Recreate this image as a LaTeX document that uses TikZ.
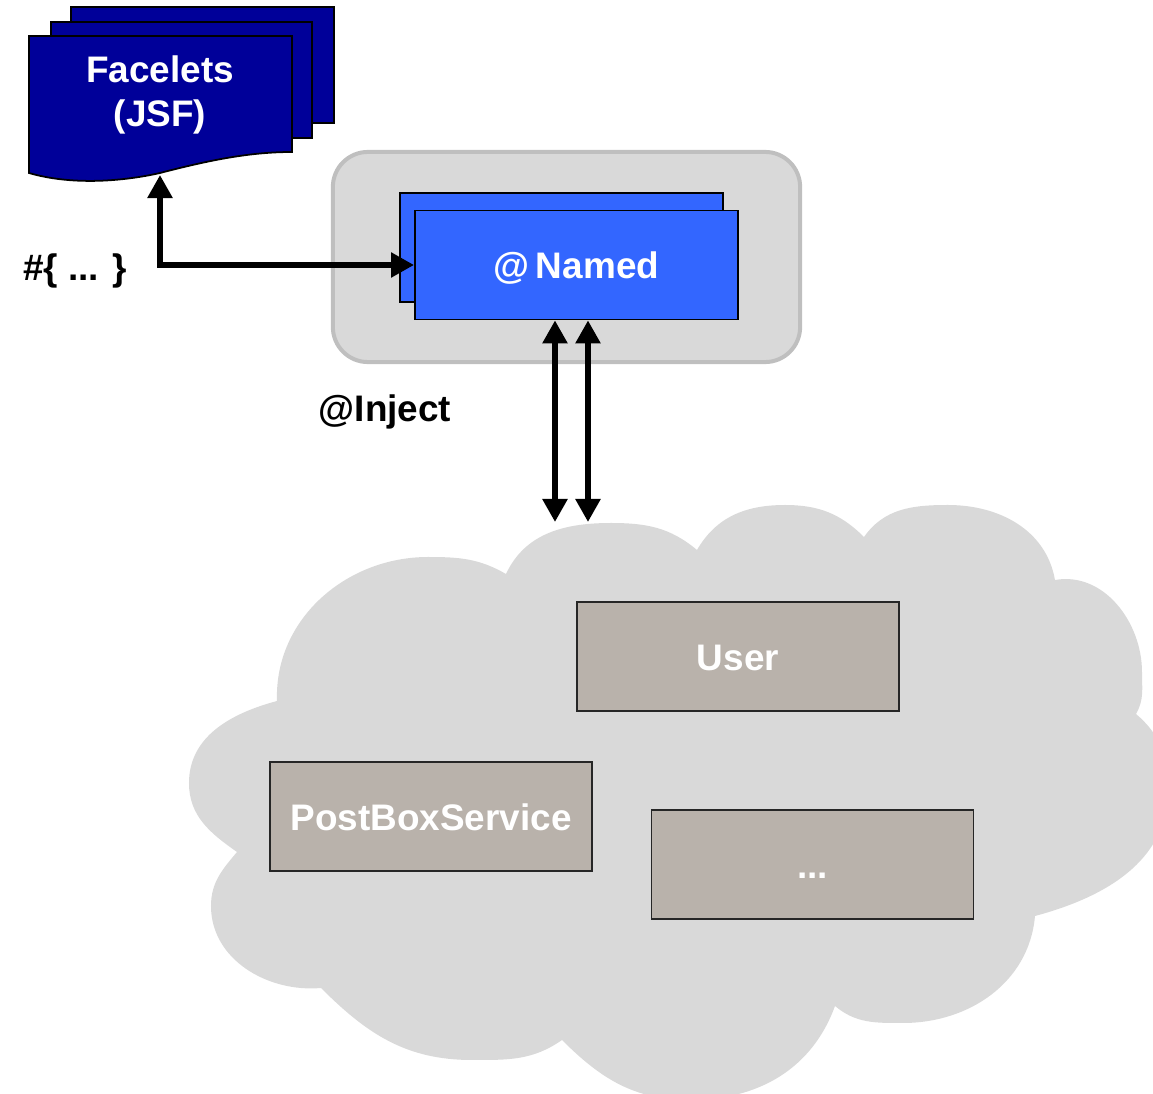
\documentclass[tikz,border=0pt]{standalone}
\usepackage{fontspec}
\setmainfont{Liberation Sans}
\usetikzlibrary{
  arrows.meta,
  calc
}
\definecolor{cdiNavy}{HTML}{000099}
\definecolor{cdiBlue}{HTML}{3366FF}
\definecolor{cdiCloud}{HTML}{D9D9D9}
\definecolor{cdiFrame}{HTML}{BFBFBF}
\definecolor{cdiBean}{HTML}{B9B2AB}
\tikzset{
  cdiFont/.style={font=\fontsize{10.5}{12.5}\selectfont\bfseries},
  containerBox/.style={
    draw=cdiFrame,
    fill=cdiCloud,
    line width=0.04cm,
    rounded corners=0.35cm,
    minimum width=4.67cm,
    minimum height=2.1cm
  },
  namedBox/.style={
    draw=black,
    fill=cdiBlue,
    line width=0.5pt,
    minimum width=3.23cm,
    minimum height=1.09cm,
    inner sep=0pt,
    cdiFont,
    text=white,
    text height=0.27cm,
    text depth=0pt
  },
  beanBox/.style={
    draw=black!85,
    fill=cdiBean,
    line width=0.5pt,
    minimum width=3.22cm,
    minimum height=1.09cm,
    inner sep=0pt,
    cdiFont,
    text=white,
    text height=0.27cm,
    text depth=0pt
  },
  docPage/.style={draw=black, fill=cdiNavy, line width=0.5pt},
  injectArrow/.style={
    {Triangle[length=2.3mm,width=2.4mm]}-{Triangle[length=2.3mm,width=2.4mm]},
    line width=0.055cm,
    black
  },
  plainLabel/.style={cdiFont, text=black}
}

\begin{document}
\begin{tikzpicture}[x=0.01cm,y=0.01cm]
  \useasboundingbox (0,0) rectangle (1153,-1094);
  \clip (0,0) rectangle (1153,-1094);

  % cloud of beans
  \fill[cdiCloud] (506,-574) to[out=65,in=180] (611,-523) to[out=0,in=140] (697,-550)
    to[out=60,in=180] (785,-505) to[out=0,in=135] (864,-537)
    to[out=55,in=180] (948,-505) to[out=0,in=100] (1055,-580)
    to[out=10,in=90] (1142,-672) to[out=-90,in=60] (1136,-714)
    to[out=-40,in=90] (1168,-790) to[out=-90,in=15] (1035,-916)
    to[out=-95,in=0] (903,-1023) to[out=180,in=-40] (835,-1006)
    to[out=-110,in=0] (690,-1100) to[out=180,in=-45] (562,-1040)
    to[out=-145,in=0] (472,-1060) to[out=180,in=-45] (321,-988)
    to[out=185,in=-90] (211,-906) to[out=90,in=-130] (237,-852)
    to[out=145,in=-90] (189,-783) to[out=90,in=195] (277,-701)
    to[out=92,in=180] (428,-557) to[out=0,in=150] cycle;

  % container with the named bean
  \node[containerBox] (container) at (566.5,-257) {};
  \node[namedBox] (namedBack) at (561.5,-247.5) {};
  \node[namedBox] (named) at (576.5,-265) {@\,Named};

  % facelets pages
  \draw[docPage] (71,-7) rectangle (334,-123);
  \draw[docPage] (51,-22) rectangle (312,-138);
  \draw[docPage] (29,-36) -- (292,-36) -- (292,-152)
    .. controls (250,-152) and (210,-160) .. (160,-173)
    .. controls (120,-182) and (70,-185) .. (29,-173) -- cycle;
  \node[cdiFont, text=white, align=center] (facelets) at (160,-95) {Facelets\\(JSF)};
  \coordinate (faceletsFoot) at (160,-175);

  % beans
  \node[beanBox] (user) at (738,-656.5) {User};
  \node[beanBox] (postBox) at (431,-816.5) {PostBoxService};
  \node[beanBox] (moreBeans) at (812.5,-864.5) {...};

  % connectors
  \coordinate (cloudTopA) at (555,-522);
  \coordinate (cloudTopB) at (588,-522);
  \draw[injectArrow] (faceletsFoot) |- (named.west);
  \draw[injectArrow] (cloudTopA |- named.south) -- (cloudTopA);
  \draw[injectArrow] (cloudTopB |- named.south) -- (cloudTopB);

  \node[plainLabel] (elLabel) at (75,-271) {\#\{ ... \}};
  \node[plainLabel] (injectLabel) at (385,-412) {@Inject};
\end{tikzpicture}
\end{document}
